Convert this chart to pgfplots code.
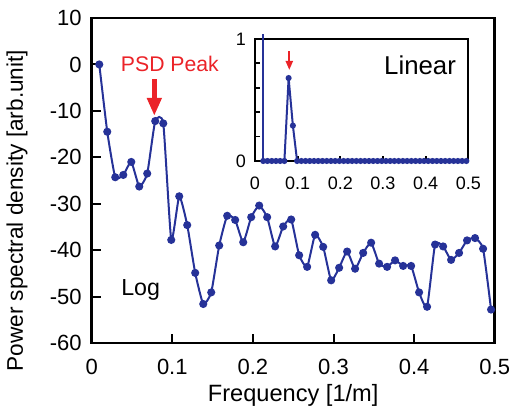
\documentclass[border=0pt]{standalone}
\usepackage{fontspec}
\setmainfont{Liberation Sans}
\usepackage{pgfplots}
\pgfplotsset{compat=1.18}
\usepackage{pgfplotstable}
\usetikzlibrary{arrows.meta}
\definecolor{psdblue}{RGB}{38,50,152}
\definecolor{psdred}{RGB}{235,35,40}

\pgfplotstableread{
f psd
0.0094 0.0
0.0193 -14.5
0.0292 -24.3
0.0392 -23.8
0.0491 -21.0
0.0590 -26.3
0.0689 -23.5
0.0788 -12.2
0.0888 -12.7
0.0987 -37.8
0.1086 -28.4
0.1185 -34.6
0.1284 -44.9
0.1384 -51.6
0.1483 -49.1
0.1582 -39.0
0.1681 -32.6
0.1780 -33.5
0.1880 -38.3
0.1979 -32.9
0.2078 -30.4
0.2177 -32.9
0.2276 -39.2
0.2376 -34.9
0.2475 -33.4
0.2574 -41.1
0.2673 -43.6
0.2772 -36.7
0.2872 -39.3
0.2971 -46.5
0.3070 -43.8
0.3169 -40.3
0.3268 -44.0
0.3368 -40.6
0.3467 -38.4
0.3566 -42.9
0.3665 -43.6
0.3764 -42.2
0.3864 -43.4
0.3963 -43.4
0.4062 -49.1
0.4161 -52.2
0.4260 -38.8
0.4360 -39.2
0.4459 -42.1
0.4558 -40.6
0.4657 -37.9
0.4756 -37.4
0.4856 -39.7
0.4955 -52.8
}\logdata

\pgfplotstableread{
f lin
0.0193 0
0.0292 0
0.0392 0
0.0491 0
0.0590 0
0.0689 0
0.0788 0.68
0.0888 0.29
0.0987 0
0.1086 0
0.1185 0
0.1284 0
0.1384 0
0.1483 0
0.1582 0
0.1681 0
0.1780 0
0.1880 0
0.1979 0
0.2078 0
0.2177 0
0.2276 0
0.2376 0
0.2475 0
0.2574 0
0.2673 0
0.2772 0
0.2872 0
0.2971 0
0.3070 0
0.3169 0
0.3268 0
0.3368 0
0.3467 0
0.3566 0
0.3665 0
0.3764 0
0.3864 0
0.3963 0
0.4062 0
0.4161 0
0.4260 0
0.4360 0
0.4459 0
0.4558 0
0.4657 0
0.4756 0
0.4856 0
0.4955 0
}\lindata

\begin{document}
\begin{tikzpicture}
\begin{axis}[
  at={(0,0)}, anchor=south west,
  scale only axis, width=201.5pt, height=162.5pt,
  xmin=0, xmax=0.5, ymin=-60, ymax=10,
  xtick={0,0.1,0.2,0.3,0.4,0.5},
  ytick={-60,-50,-40,-30,-20,-10,0,10},
  tick pos=left, tick align=inside,
  major tick length=4.5pt,
  every tick/.style={black, line width=1pt},
  axis line style={line width=1.3pt},
  /pgf/number format/assume math mode=true,
  ticklabel style={font=\fontsize{11}{12}\selectfont},
  xticklabel style={yshift=-4.5pt},
  yticklabel style={xshift=-1.5pt},
  xlabel={Frequency [1/m]},
  ylabel={Power spectral density [arb.unit]},
  label style={font=\fontsize{11.8}{14}\selectfont},
  xlabel style={at={(axis description cs:0.5,-0.16)}, anchor=center},
  ylabel style={font=\fontsize{11.3}{13}\selectfont, at={(axis description cs:-0.185,-0.089)}, anchor=west, inner sep=0pt},
]
\addplot[psdblue, line width=1pt, smooth, tension=0.3, mark=*, mark size=1.5pt,
  mark options={fill=psdblue, draw=psdblue}] table[x=f, y=psd] {\logdata};
\node[font=\fontsize{11.6}{13}\selectfont] at (axis cs:0.0608,-48.5) {Log};
\node[font=\fontsize{10.6}{12}\selectfont, text=psdred] at (axis cs:0.097,0.2) {PSD Peak};
\draw[psdred, line width=2.5pt, -{Triangle[width=7pt,length=9pt]}] (axis cs:0.0777,-3.15) -- (axis cs:0.0777,-11.07);
\end{axis}

\begin{axis}[
  at={(81.65pt,91pt)}, anchor=south west,
  scale only axis, width=106.65pt, height=61pt,
  xmin=0, xmax=0.5, ymin=0, ymax=1,
  clip=false,
  axis background/.style={fill=white},
  xtick={0,0.1,0.2,0.3,0.4,0.5},
  xticklabels={0,0.1,0.2,0.3,0.4,0.5},
  ytick={0,0.2,0.4,0.6,0.8,1},
  yticklabels={0,,,,,1},
  tick pos=left, tick align=inside,
  major tick length=2.5pt,
  every tick/.style={black, line width=0.9pt},
  axis line style={line width=1pt},
  ticklabel style={font=\fontsize{9}{11}\selectfont},
  xticklabel style={yshift=-4.5pt},
  yticklabel style={xshift=-1pt},
]
\addplot[psdblue, line width=1pt, forget plot] coordinates {(0.0193,0) (0.0193,1.04)};
\addplot[psdblue, line width=1pt, mark=*, mark size=1pt,
  mark options={fill=psdblue, draw=psdblue}] table[x=f, y=lin] {\lindata};
\node[font=\fontsize{12.9}{14}\selectfont] at (axis cs:0.387,0.787) {Linear};
\draw[psdred, line width=1pt, -{Triangle[width=3.5pt,length=4.5pt]}] (axis cs:0.0804,0.90) -- (axis cs:0.0804,0.746);
\end{axis}
\pgfresetboundingbox
\path[use as bounding box] (-45.85pt,-33.5pt) rectangle (213.65pt,171.5pt);
\end{tikzpicture}
\end{document}
